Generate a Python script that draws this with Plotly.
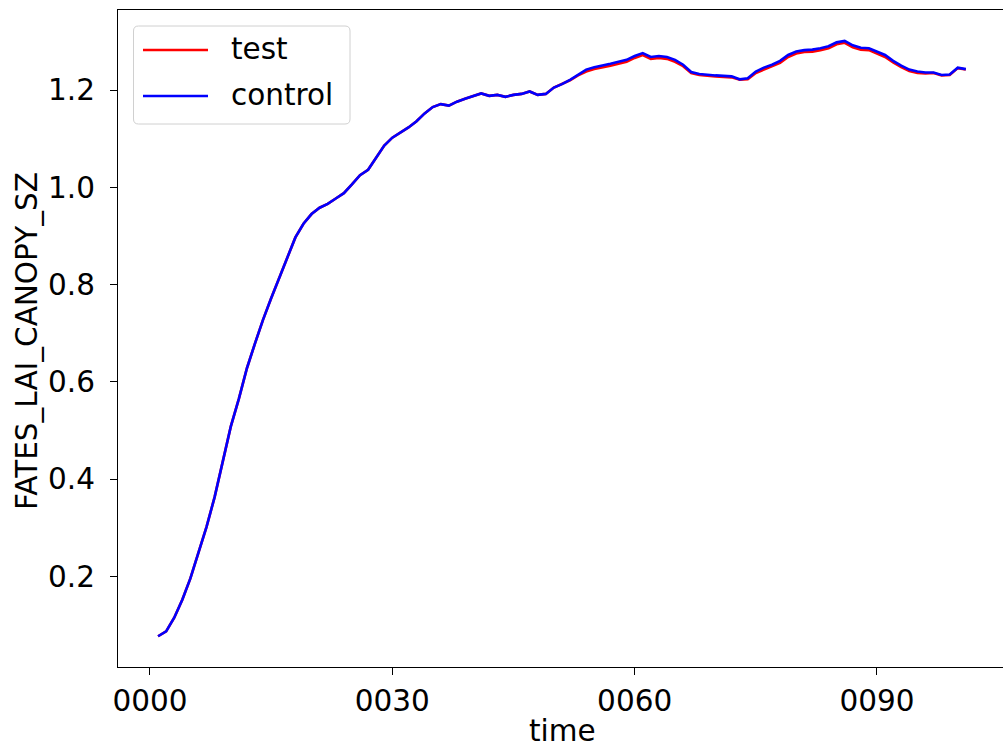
import plotly.graph_objects as go

years = list(range(1, 102))

control = [
    0.077, 0.087, 0.115, 0.152, 0.196, 0.248, 0.302, 0.363, 0.439, 0.508,
    0.565, 0.628, 0.679, 0.728, 0.772, 0.814, 0.856, 0.897, 0.925, 0.945,
    0.958, 0.966, 0.977, 0.988, 1.006, 1.025, 1.036, 1.060, 1.086, 1.102,
    1.113, 1.123, 1.136, 1.152, 1.165, 1.171, 1.168, 1.176, 1.182, 1.188,
    1.193, 1.188, 1.190, 1.186, 1.190, 1.192, 1.197, 1.190, 1.192, 1.205,
    1.212, 1.221, 1.232, 1.242, 1.247, 1.250, 1.254, 1.258, 1.262, 1.270,
    1.276, 1.268, 1.270, 1.268, 1.262, 1.252, 1.237, 1.233, 1.231, 1.230,
    1.229, 1.228, 1.222, 1.224, 1.238, 1.246, 1.252, 1.260, 1.272, 1.279,
    1.282, 1.283, 1.286, 1.290, 1.298, 1.301, 1.292, 1.287, 1.286, 1.279,
    1.272, 1.260, 1.250, 1.242, 1.238, 1.236, 1.236, 1.231, 1.232, 1.246,
    1.243,
]

test = [
    0.077, 0.087, 0.115, 0.152, 0.196, 0.248, 0.302, 0.363, 0.439, 0.508,
    0.565, 0.628, 0.679, 0.728, 0.772, 0.814, 0.856, 0.897, 0.925, 0.945,
    0.958, 0.966, 0.977, 0.988, 1.006, 1.025, 1.036, 1.060, 1.086, 1.102,
    1.113, 1.123, 1.136, 1.152, 1.165, 1.171, 1.168, 1.176, 1.182, 1.188,
    1.193, 1.188, 1.190, 1.186, 1.190, 1.192, 1.197, 1.190, 1.192, 1.205,
    1.212, 1.220, 1.230, 1.238, 1.243, 1.246, 1.250, 1.254, 1.258, 1.266,
    1.272, 1.264, 1.266, 1.264, 1.258, 1.249, 1.235, 1.231, 1.229, 1.228,
    1.227, 1.226, 1.221, 1.222, 1.235, 1.242, 1.248, 1.256, 1.268, 1.275,
    1.278, 1.279, 1.282, 1.286, 1.294, 1.297, 1.288, 1.283, 1.282, 1.275,
    1.268, 1.257, 1.247, 1.239, 1.235, 1.234, 1.235, 1.230, 1.231, 1.245,
    1.242,
]

xtick_vals = [0, 30, 60, 90]
xtick_text = ["0000", "0030", "0060", "0090"]
ytick_vals = [0.2, 0.4, 0.6, 0.8, 1.0, 1.2]
ytick_text = ["0.2", "0.4", "0.6", "0.8", "1.0", "1.2"]
series_names = ["test", "control"]
series_colors = ["red", "blue"]
x_title = "time"
y_title = "FATES_LAI_CANOPY_SZ"

W, H = 1003, 749
L, R, T, B = 118, 0, 10, 82
pw = W - L - R
ph = H - T - B

def px(x):
    return (x - L) / pw

def py(y):
    return (H - B - y) / ph

FONT = "DejaVu Sans"
fs_tick = 29.5
fs_leg = 29.5
fs_title = 29.5

fig = go.Figure()
for name, vals, col in zip(series_names, [test, control], series_colors):
    fig.add_trace(go.Scatter(x=years, y=vals, mode="lines", name=name,
                             line=dict(color=col, width=2.6), showlegend=False))

# matplotlib-like legend box
x0, x1, y0, y1 = px(133.5), px(350), py(26), py(124)
rx = 5 / pw
ry = 5 / ph
path = (f"M {x0+rx},{y0} L {x1-rx},{y0} Q {x1},{y0} {x1},{y0-ry} "
        f"L {x1},{y1+ry} Q {x1},{y1} {x1-rx},{y1} L {x0+rx},{y1} "
        f"Q {x0},{y1} {x0},{y1+ry} L {x0},{y0-ry} Q {x0},{y0} {x0+rx},{y0} Z")
shapes = [dict(type="path", xref="paper", yref="paper", path=path,
               fillcolor="rgba(255,255,255,0.8)", line=dict(color="#d0d0d0", width=1))]
annotations = []
for i, (name, col) in enumerate(zip(series_names, series_colors)):
    yy = 50 + i * 46
    shapes.append(dict(type="line", xref="paper", yref="paper",
                       x0=px(143), x1=px(208), y0=py(yy), y1=py(yy),
                       line=dict(color=col, width=2.6)))
    annotations.append(dict(xref="paper", yref="paper", x=px(229), y=py(yy - 1),
                            text=name, showarrow=False, xanchor="left", yanchor="middle",
                            font=dict(family=FONT, size=fs_leg, color="black")))

# axis titles
annotations.append(dict(xref="paper", yref="paper", x=px(562), y=py(731),
                        text=x_title, showarrow=False, xanchor="center", yanchor="middle",
                        font=dict(family=FONT, size=fs_title, color="black")))
annotations.append(dict(xref="paper", yref="paper", x=px(27), y=py(341),
                        text=y_title, showarrow=False, xanchor="center", yanchor="middle",
                        textangle=-90,
                        font=dict(family=FONT, size=fs_title, color="black")))

fig.update_layout(
    width=W, height=H,
    margin=dict(l=L, r=R, t=T, b=B, pad=0),
    paper_bgcolor="white", plot_bgcolor="white",
    font=dict(family=FONT, size=fs_tick, color="black"),
    shapes=shapes, annotations=annotations,
    xaxis=dict(range=[-3.96, 105.6], tickvals=xtick_vals, ticktext=xtick_text,
               showgrid=False, zeroline=False, showline=True, linecolor="black",
               linewidth=1.2, mirror=True, ticks="outside", ticklen=7, tickwidth=1.2,
               tickcolor="black", ticklabelstandoff=0,
               tickfont=dict(size=fs_tick)),
    yaxis=dict(range=[0.0138, 1.3645], tickvals=ytick_vals, ticktext=ytick_text,
               showgrid=False, zeroline=False, showline=True, linecolor="black",
               linewidth=1.2, mirror=False, ticks="outside", ticklen=7, tickwidth=1.2,
               tickcolor="black", ticklabelstandoff=9,
               tickfont=dict(size=fs_tick)),
)

fig.write_html("out.html")
